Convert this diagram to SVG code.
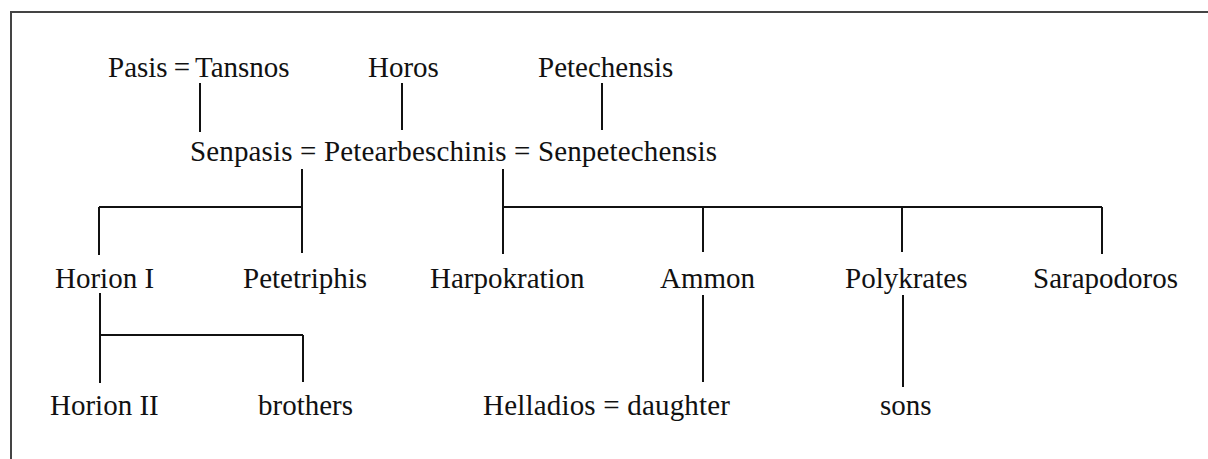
<svg xmlns="http://www.w3.org/2000/svg" width="1208" height="459" viewBox="0 0 1208 459">
<style>
text{font-family:"Liberation Serif","Times New Roman",serif;font-size:29px;fill:#111;}
.c line{stroke:#111;stroke-width:2;}
.frame{stroke:#444;stroke-width:2;fill:none;}
</style>
<rect width="1208" height="459" fill="#fff"/>
<path class="frame" d="M11,459 V12 H1208"/>
<g id="pasis-tansnos"><text x="108" y="77">Pasis<tspan dx="6">=</tspan><tspan dx="5">Tansnos</tspan></text></g>
<g id="horos"><text x="368" y="77">Horos</text></g>
<g id="petechensis"><text x="538" y="77">Petechensis</text></g>
<g id="senpasis-petearbeschinis-senpetechensis"><text x="190" y="161" textLength="527" lengthAdjust="spacing">Senpasis = Petearbeschinis = Senpetechensis</text></g>
<g id="horion1"><text x="55" y="288">Horion I</text></g>
<g id="petetriphis"><text x="243" y="288">Petetriphis</text></g>
<g id="harpokration"><text x="430" y="288">Harpokration</text></g>
<g id="ammon"><text x="660" y="288">Ammon</text></g>
<g id="polykrates"><text x="845" y="288">Polykrates</text></g>
<g id="sarapodoros"><text x="1033" y="288">Sarapodoros</text></g>
<g id="horion2"><text x="50" y="415">Horion II</text></g>
<g id="brothers"><text x="258" y="415">brothers</text></g>
<g id="helladios-daughter"><text x="483" y="415" textLength="247" lengthAdjust="spacing">Helladios = daughter</text></g>
<g id="sons"><text x="880" y="415">sons</text></g>
<g class="c" id="connectors">
<line x1="200" y1="83" x2="200" y2="132"/>
<line x1="402" y1="83" x2="402" y2="130"/>
<line x1="602" y1="83" x2="602" y2="130"/>
<line x1="302" y1="169" x2="302" y2="253"/>
<line x1="99" y1="207" x2="302" y2="207"/>
<line x1="99" y1="207" x2="99" y2="255"/>
<line x1="503" y1="169" x2="503" y2="254"/>
<line x1="503" y1="207" x2="1102" y2="207"/>
<line x1="703" y1="207" x2="703" y2="252"/>
<line x1="902" y1="207" x2="902" y2="252"/>
<line x1="1102" y1="207" x2="1102" y2="254"/>
<line x1="100" y1="293" x2="100" y2="383"/>
<line x1="100" y1="335" x2="303" y2="335"/>
<line x1="303" y1="335" x2="303" y2="382"/>
<line x1="703" y1="295" x2="703" y2="382"/>
<line x1="903" y1="295" x2="903" y2="387"/>
</g>
</svg>
